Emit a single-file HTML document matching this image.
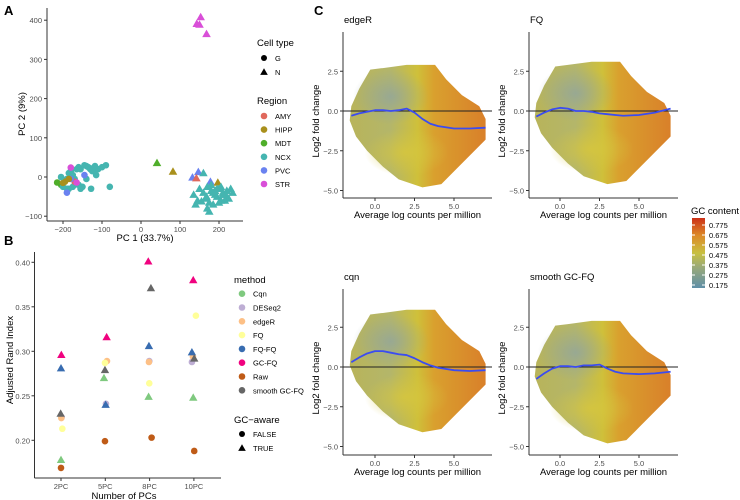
<!DOCTYPE html>
<html><head><meta charset="utf-8"><style>
body{margin:0;background:#fff;}
svg{display:block;font-family:"Liberation Sans",sans-serif;}
.tk{font-size:7.5px;fill:#4d4d4d;}
.at{font-size:9.5px;fill:#000;}
.lg{font-size:7.5px;fill:#000;}
</style></head><body>
<svg id="fig" width="740" height="500" viewBox="0 0 740 500">
<defs>
<linearGradient id="gcbar" x1="0" y1="1" x2="0" y2="0">
<stop offset="0" stop-color="#5f8fa8"/><stop offset="0.3" stop-color="#9aaa78"/><stop offset="0.5" stop-color="#c8c040"/><stop offset="0.75" stop-color="#dc8a28"/><stop offset="1" stop-color="#cc3018"/></linearGradient>
<linearGradient id="cloud" x1="0" y1="0" x2="1" y2="0">
<stop offset="0" stop-color="#b8b45a"/><stop offset="0.3" stop-color="#b4b66a"/><stop offset="0.5" stop-color="#cfc03a"/><stop offset="0.62" stop-color="#d9a02e"/><stop offset="1" stop-color="#d9802a"/></linearGradient>
<radialGradient id="blue" cx="0.5" cy="0.5" r="0.5"><stop offset="0" stop-color="#8fa4a0" stop-opacity="0.75"/><stop offset="1" stop-color="#8fa4a0" stop-opacity="0"/></radialGradient>
<radialGradient id="yel" cx="0.5" cy="0.5" r="0.5"><stop offset="0" stop-color="#d6c63e" stop-opacity="0.85"/><stop offset="1" stop-color="#d6c63e" stop-opacity="0"/></radialGradient>
</defs>
<text x="4" y="15" font-size="13" font-weight="bold">A</text>
<text x="4" y="245" font-size="13" font-weight="bold">B</text>
<text x="314" y="15" font-size="13" font-weight="bold">C</text>
<g id="pa"></g>
<g id="pb"></g>
<g id="pc"></g>
</svg>
<script>
// ---- Panel A data ----
const regions=["AMY","HIPP","MDT","NCX","PVC","STR"];
const regionColors=["#e0685c","#a9901c","#4fae2a","#45b5b0","#6a82f0","#d94fd8"];
const pcaX=[153,143,150,168,41,82,132,147,178,142,197,
150,160,170,180,190,200,210,220,230,135,145,165,175,185,195,205,215,225,235,140,155,170,185,200,215,175,190,205,220,160,180,195,210,168,
-215,-205,-195,-190,-185,-180,-175,-170,-165,-160,-155,-150,-145,-140,-135,-130,-125,-120,-115,-110,-100,-90,-80,-200,-185,-170,-155,-140,-125,-128,-160,-190,-175,-118,-170,-195,-180,-200,-190,-145,-165,-185,-205,-180];
const pcaY=[408,391,389,365,36,14,-1,13,-12,-3,-14,
-30,-40,-25,-35,-45,-30,-40,-50,-30,-45,-60,-55,-65,-40,-50,-60,-45,-55,-40,-70,-62,-80,-70,-65,-60,-88,-35,-25,-35,10,-20,-30,-45,-50,
-14,-20,-10,-5,10,15,5,-5,20,25,20,-25,30,28,25,20,22,15,5,20,25,30,-25,-25,-30,-20,-30,-5,15,-30,-20,-30,-25,28,-12,-12,-5,-15,-40,5,-14,-5,0,24];
const pcaRegion=[5,5,5,5,2,1,4,4,4,0,1,
3,3,3,3,3,3,3,3,3,3,3,3,3,3,3,3,3,3,3,3,3,3,3,3,3,3,3,3,3,3,3,3,3,3,
2,2,3,3,3,3,3,3,3,3,3,3,3,3,3,3,3,3,3,3,3,3,3,3,3,3,3,3,3,3,3,3,3,3,0,1,4,1,4,4,5,1,3,5,5];
const pcaCell=[1,1,1,1,1,1,1,1,1,1,1,1,1,1,1,1,1,1,1,1,1,1,1,1,1,1,1,1,1,1,1,1,1,1,1,1,1,1,1,1,1,1,1,1,1,
0,0,0,0,0,0,0,0,0,0,0,0,0,0,0,0,0,0,0,0,0,0,0,0,0,0,0,0,0,0,0,0,0,0,0,0,0,0,0,0,0,0,0,0,0];
const pcaXTicks=[-200,-100,0,100,200];
const pcaYTicks=[-100,0,100,200,300,400];
// ---- Panel B data ----
const methods=["Cqn","DESeq2","edgeR","FQ","FQ-FQ","GC-FQ","Raw","smooth GC-FQ"];
const methodColors=["#7fc97f","#beaed4","#fdc086","#ffff99","#386cb0","#f0027f","#bf5b17","#666666"];
const methodGC=[1,0,0,0,1,1,0,1];
const pcCats=["2PC","5PC","8PC","10PC"];
const ari2=[0.178,0.226,0.225,0.213,0.281,0.296,0.169,0.230];
const ari5=[0.270,0.241,0.289,0.287,0.240,0.316,0.199,0.279];
const ari8=[0.249,0.289,0.288,0.264,0.306,0.401,0.203,0.371];
const ari10=[0.248,0.288,0.294,0.340,0.299,0.380,0.188,0.292];
const ariYTicks=[0.20,0.25,0.30,0.35,0.40];
// ---- Panel C data ----
const maNames=["edgeR","FQ","cqn","smooth GC-FQ"];
const loessX=[-1.5,-1,-0.5,0,0.5,1,1.5,2,2.5,3,3.5,4,5,6,7];
const loessEdgeR=[-0.3,-0.15,-0.05,0.05,0.05,0,0.05,0.15,-0.1,-0.5,-0.8,-0.95,-1.1,-1.1,-1.05];
const loessFQ=[-0.35,-0.1,0.1,0.2,0.15,0,0,-0.05,-0.15,-0.2,-0.25,-0.3,-0.25,-0.1,0.15];
const loessCqn=[0.3,0.6,0.85,1.0,1.0,0.9,0.8,0.75,0.55,0.3,0.1,-0.05,-0.2,-0.25,-0.2];
const loessSmooth=[-0.75,-0.4,-0.1,0.05,0.05,0,0.1,0.1,0.15,-0.1,-0.3,-0.4,-0.45,-0.4,-0.3];
const maXTicks=[0,2.5,5];
const maYTicks=[-5,-2.5,0,2.5];
const gcTicks=["0.775","0.675","0.575","0.475","0.375","0.275","0.175"];

const NS="http://www.w3.org/2000/svg";
function mk(p,t,a){const e=document.createElementNS(NS,t);for(const k in a)e.setAttribute(k,a[k]);p.appendChild(e);return e;}
function tri(p,cx,cy,s,fill){return mk(p,"polygon",{points:`${cx},${cy-s} ${cx-s},${cy+s*0.75} ${cx+s},${cy+s*0.75}`,fill:fill});}

// ===== Panel A =====
const pa=document.getElementById("pa");
const ax=v=>141+v*0.39, ay=v=>177-v*0.392;
let e=mk(pa,"line",{x1:47,y1:8,x2:47,y2:221,stroke:"#333","stroke-width":1});


e=mk(pa,"line",{x1:47,y1:221,x2:243,y2:221,stroke:"#333","stroke-width":1});


pcaYTicks.forEach(v=>{mk(pa,"line",{x1:44,x2:47,y1:ay(v),y2:ay(v),stroke:"#333"});
 const t=mk(pa,"text",{x:42,y:ay(v)+3,"text-anchor":"end",class:"tk"});t.textContent=v<0?"\u2212"+(-v):v;
 
 });
pcaXTicks.forEach(v=>{mk(pa,"line",{x1:ax(v),x2:ax(v),y1:221,y2:224,stroke:"#333"});
 const t=mk(pa,"text",{x:ax(v),y:232,"text-anchor":"middle",class:"tk"});t.textContent=v<0?"\u2212"+(-v):v;
 
 });
e=mk(pa,"text",{x:145,y:241,"text-anchor":"middle",class:"at"});e.textContent="PC 1 (33.7%)";


e=mk(pa,"text",{x:0,y:0,"text-anchor":"middle",class:"at",transform:"translate(25,114) rotate(-90)"});e.textContent="PC 2 (9%)";


pcaX.forEach((v,i)=>{const c=regionColors[pcaRegion[i]];let m;
 if(pcaCell[i])m=tri(pa,ax(v),ay(pcaY[i]),4.3,c);else m=mk(pa,"circle",{cx:ax(v),cy:ay(pcaY[i]),r:3.3,fill:c});
 
 });
// legend A
e=mk(pa,"text",{x:257,y:46,class:"at"});e.textContent="Cell type";


e=mk(pa,"circle",{cx:264,cy:58,r:3,fill:"#000"});


e=tri(pa,264,72,3.8,"#000");


[["G",61],["N",75]].forEach(d=>{const t=mk(pa,"text",{x:275,y:d[1],class:"lg"});t.textContent=d[0];
 
 });
e=mk(pa,"text",{x:257,y:104,class:"at"});e.textContent="Region";


regions.forEach((r,i)=>{const y=116+i*13.6;
 const c=mk(pa,"circle",{cx:264,cy:y,r:3.3,fill:regionColors[i]});
 
 
 const t=mk(pa,"text",{x:275,y:y+3,class:"lg"});t.textContent=r;
 
 });

// ===== Panel B =====
const pb=document.getElementById("pb");
const bx=i=>61+i*44.3, by=v=>262.3-(v-0.40)*890;
const jitter=[[0.0,0.1,0.05,0.2,0.0,0.05,0.0,-0.05],[-0.2,0.1,0.25,-0.05,0.05,0.2,-0.05,-0.05],[-0.15,-0.05,-0.1,-0.05,-0.1,-0.2,0.3,0.2],[-0.1,-0.3,-0.15,0.3,-0.3,-0.1,0.05,0.05]];
e=mk(pb,"line",{x1:34.5,y1:252,x2:34.5,y2:478,stroke:"#333"});


e=mk(pb,"line",{x1:34.5,y1:478,x2:221,y2:478,stroke:"#333"});


ariYTicks.forEach(v=>{mk(pb,"line",{x1:31.5,x2:34.5,y1:by(v),y2:by(v),stroke:"#333"});
 const t=mk(pb,"text",{x:30,y:by(v)+3,"text-anchor":"end",class:"tk"});t.textContent=v.toFixed(2);
 
 });
pcCats.forEach((c,i)=>{mk(pb,"line",{x1:bx(i),x2:bx(i),y1:478,y2:481,stroke:"#333"});
 const t=mk(pb,"text",{x:bx(i),y:489,"text-anchor":"middle",class:"tk"});t.textContent=c;
 
 });
e=mk(pb,"text",{x:124,y:499,"text-anchor":"middle",class:"at"});e.textContent="Number of PCs";


e=mk(pb,"text",{x:0,y:0,"text-anchor":"middle",class:"at",transform:"translate(13,360) rotate(-90)"});e.textContent="Adjusted Rand Index";


[ari2,ari5,ari8,ari10].forEach((arr,ci)=>{arr.forEach((v,mi)=>{
 const x=bx(ci+jitter[ci][mi]*0.15), y=by(v), c=methodColors[mi];let m;
 if(methodGC[mi])m=tri(pb,x,y,4.2,c);else m=mk(pb,"circle",{cx:x,cy:y,r:3.3,fill:c});
 
 });});
e=mk(pb,"text",{x:234,y:283,class:"at"});e.textContent="method";


methods.forEach((m,i)=>{const y=293.7+i*13.8;
 const c=mk(pb,"circle",{cx:242,cy:y,r:3.3,fill:methodColors[i]});
 
 
 const t=mk(pb,"text",{x:253,y:y+3,class:"lg"});t.textContent=m;
 
 });
e=mk(pb,"text",{x:234,y:423,class:"at"});e.textContent="GC\u2212aware";


e=mk(pb,"circle",{cx:242,cy:434,r:3,fill:"#000"});


e=tri(pb,242,448,3.8,"#000");


[["FALSE",437],["TRUE",451]].forEach(d=>{const t=mk(pb,"text",{x:253,y:d[1],class:"lg"});t.textContent=d[0];
 
 });

// ===== Panel C =====
const pc=document.getElementById("pc");
const loessAll=[loessEdgeR,loessFQ,loessCqn,loessSmooth];
const panels=[{x0:375,ax:343,right:492,y0:111,top:32,bot:198},{x0:560,ax:529,right:678,y0:111,top:32,bot:198},
{x0:375,ax:343,right:492,y0:367,top:289,bot:455},{x0:560,ax:529,right:678,y0:367,top:289,bot:455}];
const cloudTop=[[-1.5,0.3],[-1,1.4],[-0.3,2.6],[0.5,2.7],[2,2.9],[3.8,2.9],[4.5,2.0],[5.5,1.0],[6.6,0.3],[7,-0.5],[7,-1.8],[6,-2.8],[5,-3.8],[4.2,-4.6],[3,-4.8],[1.5,-4.3],[0.5,-3.5],[-0.5,-2.5],[-1.2,-1.6],[-1.6,-0.6]];
const cloudShift=[0,0.2,0.7,0.0];
panels.forEach((p,i)=>{
 const sx=v=>p.x0+v*15.8, sy=v=>p.y0-v*15.9;
 const g=mk(pc,"g",{});
 
 
 const t=mk(g,"text",{x:p.ax+1,y:p.top-9,class:"at"});t.textContent=maNames[i];
 
 
 const pts=cloudTop.map(q=>sx(q[0])+","+sy(q[1]+cloudShift[i])).join(" ");
 const cl=mk(g,"polygon",{points:pts,fill:"url(#cloud)"});
 
 
 mk(g,"ellipse",{cx:sx(1.0),cy:sy(0.9+cloudShift[i]),rx:38,ry:28,fill:"url(#blue)"});
 mk(g,"ellipse",{cx:sx(2.0),cy:sy(-2.6+cloudShift[i]),rx:42,ry:24,fill:"url(#yel)"});
 mk(g,"line",{x1:p.ax,y1:p.top,x2:p.ax,y2:p.bot,stroke:"#333"});
 mk(g,"line",{x1:p.ax,y1:p.bot,x2:p.right,y2:p.bot,stroke:"#333"});
 mk(g,"line",{x1:p.ax,y1:sy(0),x2:p.right,y2:sy(0),stroke:"#222","stroke-width":1});
 maYTicks.forEach(v=>{mk(g,"line",{x1:p.ax-3,x2:p.ax,y1:sy(v),y2:sy(v),stroke:"#333"});
  const tt=mk(g,"text",{x:p.ax-5,y:sy(v)+3,"text-anchor":"end",class:"tk"});tt.textContent=v<0?"\u2212"+(-v).toFixed(1):v.toFixed(1);
  
  });
 maXTicks.forEach(v=>{mk(g,"line",{x1:sx(v),x2:sx(v),y1:p.bot,y2:p.bot+3,stroke:"#333"});
  const tt=mk(g,"text",{x:sx(v),y:p.bot+11,"text-anchor":"middle",class:"tk"});tt.textContent=v.toFixed(1);
  
  });
 const xt=mk(g,"text",{x:(p.ax+p.right)/2,y:p.bot+20,"text-anchor":"middle",class:"at"});xt.textContent="Average log counts per million";
 
 
 const yt=mk(g,"text",{x:0,y:0,"text-anchor":"middle",class:"at",transform:`translate(${p.ax-24},${(p.top+p.bot)/2+6}) rotate(-90)`});yt.textContent="Log2 fold change";
 
 
 const d=loessX.map((x,k)=>(k?"L":"M")+sx(x)+","+sy(loessAll[i][k])).join(" ");
 const ln=mk(g,"path",{d:d,fill:"none",stroke:"#3b4cf0","stroke-width":1.8,"stroke-linejoin":"round"});
 
 
});
// GC legend
e=mk(pc,"text",{x:691,y:214,class:"at"});e.textContent="GC content";


e=mk(pc,"rect",{x:692,y:218,width:13,height:70,fill:"url(#gcbar)"});


gcTicks.forEach((s,i)=>{const y=225+i*10;
 mk(pc,"line",{x1:692,x2:695,y1:y,y2:y,stroke:"#fff"});mk(pc,"line",{x1:702,x2:705,y1:y,y2:y,stroke:"#fff"});
 const t=mk(pc,"text",{x:709,y:y+3,class:"lg"});t.textContent=s;
 
 });
</script>
</body></html>
